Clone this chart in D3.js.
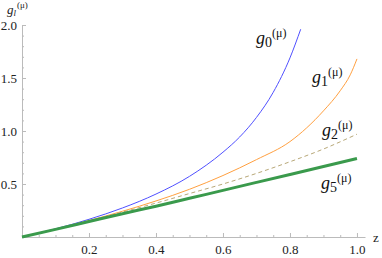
<!DOCTYPE html>
<html>
<head>
<meta charset="utf-8">
<script src="https://cdn.jsdelivr.net/npm/d3@7"></script>
<style>
  body { margin: 0; background: #fff; }
  svg { display: block; }
  .axis path, .axis line { stroke: #bbb; }
  text { font-family: "Liberation Serif", "DejaVu Serif", serif; }
</style>
</head>
<body>
<div id="graph"></div>
<script>
// values
var zs = [0, 0.1, 0.2, 0.3, 0.4, 0.5, 0.6, 0.65, 0.7, 0.75, 0.8, 0.832];
var g0 = [0, 0.077, 0.167, 0.274, 0.405, 0.572, 0.80, 0.944, 1.128, 1.365, 1.69, 1.96];

var z1 = [0, 0.1, 0.2, 0.3, 0.4, 0.5, 0.6, 0.7, 0.8, 0.85, 0.9, 0.95, 0.98, 1.0];
var g1 = [0, 0.074, 0.155, 0.243, 0.34, 0.45, 0.58, 0.73, 0.90, 1.03, 1.19, 1.38, 1.53, 1.68];

var z2 = [0, 0.1, 0.2, 0.3, 0.4, 0.5, 0.6, 0.7, 0.8, 0.9, 1.0];
var g2 = [0, 0.073, 0.152, 0.235, 0.32, 0.41, 0.50, 0.60, 0.71, 0.83, 0.97];
var g5 = [0, 0.072, 0.146, 0.22, 0.29, 0.365, 0.44, 0.515, 0.59, 0.665, 0.74];

var xMajor = [0.2, 0.4, 0.6, 0.8, 1.0];
var yMajor = [0.5, 1.0, 1.5, 2.0];

const W = 382, H = 258;
const SERIF = "Liberation Serif";

var svg = d3.select("#graph").append("svg")
    .attr("width", W).attr("height", H);

var x = d3.scaleLinear().domain([0, 1.024]).range([22, 365]);
var y = d3.scaleLinear().domain([0, 2]).range([237, 25]);

//minor ticks
var xMinor = d3.range(1, 21).map(i => i * 0.05).filter(v => xMajor.every(m => Math.abs(m - v) > 1e-6));
var yMinor = d3.range(1, 20).map(i => i * 0.1).filter(v => yMajor.every(m => Math.abs(m - v) > 1e-6));

function styleAxis(g) {
    g.attr("font-family", SERIF).attr("font-size", 13);
    g.selectAll("text").attr("fill", "#222");
}

svg.append("g").attr("class", "axis")
    .attr("transform", "translate(0," + y(0) + ")")
    .call(d3.axisBottom(x).tickValues(xMinor).tickSize(-2).tickFormat(""))
    .call(g => g.select(".domain").remove());
svg.append("g").attr("class", "axis")
    .attr("transform", "translate(0," + y(0) + ")")
    .call(d3.axisBottom(x).tickValues(xMajor).tickSizeInner(-4).tickSizeOuter(0)
        .tickPadding(8).tickFormat(d3.format(".1f")))
    .call(styleAxis);

svg.append("g").attr("class", "axis")
    .attr("transform", "translate(" + x(0) + ",0)")
    .call(d3.axisLeft(y).tickValues(yMinor).tickSize(-2).tickFormat(""))
    .call(g => g.select(".domain").remove());
svg.append("g").attr("class", "axis")
    .attr("transform", "translate(" + x(0) + ",0)")
    .call(d3.axisLeft(y).tickValues(yMajor).tickSizeInner(-4).tickSizeOuter(0)
        .tickPadding(5).tickFormat(d3.format(".1f")))
    .call(styleAxis);

// axis labels
svg.append("text")
    .attr("x", 373).attr("y", 242)
    .attr("font-size", 13).attr("fill", "#222").text("z");

var yl = svg.append("text").attr("x", 7).attr("y", 14)
    .attr("font-size", 13).attr("fill", "#222");
yl.append("tspan").attr("font-style", "italic").text("g");
yl.append("tspan").attr("font-style", "italic").attr("font-size", 9).attr("dy", 2).text("l");
yl.append("tspan").attr("font-size", 9).attr("dy", -8).attr("dx", 1).text("(μ)");

// curves
var line = (zz, gg) => d3.line().curve(d3.curveMonotoneX)
    .x((d, i) => x(zz[i])).y(d => y(d))(gg);

var series = [
    {z: zs, g: g0, color: "#5050ff", w: 1, dash: null},
    {z: z1, g: g1, color: "#ffa040", w: 1, dash: null},
    {z: z2, g: g2, color: "#b8a878", w: 1, dash: "4,3"},
    {z: z2, g: g5, color: "#3a9a4c", w: 3, dash: null}
];

svg.append("g").selectAll("path")
    .data(series).enter().append("path")
    .attr("fill", "none")
    .attr("stroke", d => d.color)
    .attr("stroke-width", d => d.w)
    .attr("stroke-dasharray", d => d.dash)
    .attr("d", d => line(d.z, d.g));

// curve labels
var labels = [
    {sub: "0", x: 256, y: 44},
    {sub: "1", x: 312, y: 83},
    {sub: "2", x: 322, y: 136},
    {sub: "5", x: 321, y: 189}
];
labels.forEach(function (l) {
    var t = svg.append("text").attr("x", l.x).attr("y", l.y)
        .attr("font-size", 18).attr("fill", "#111");
    t.append("tspan").attr("font-style", "italic").text("g");
    t.append("tspan").attr("font-size", 14).attr("dy", 3).text(l.sub);
    t.append("tspan").attr("font-size", 12).attr("dy", -10).text("(μ)");
});
</script>
</body>
</html>
